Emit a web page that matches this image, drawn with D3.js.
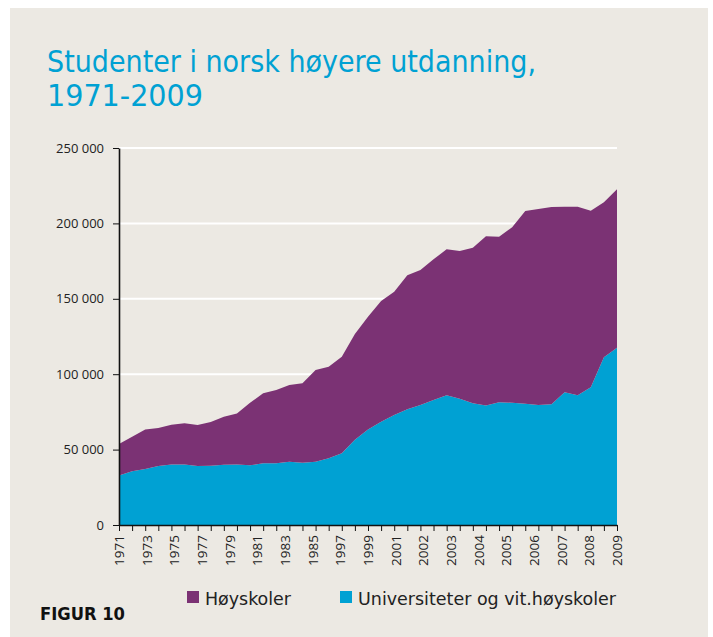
<!DOCTYPE html>
<html>
<head>
	<title>Studenter i norsk høyere utdanning</title>
	<script src="https://cdn.jsdelivr.net/npm/d3@7"></script>
	<style type="text/css">
	html, body{
		margin:0;
		background:#fff;
	}
	svg text{
		fill:#222;
	}
	.axis path, .axis line{
		stroke:#111;
	}
	</style>
</head>
<body>
<svg id="chart" width="713" height="637"></svg>
<script type="text/javascript">
	// years on the x axis, one point per year
	var years = d3.range(1971, 2010);

	// tick labels as printed in the original (spread evenly under the axis)
	var tickLabels = ["1971","1973","1975","1977","1979","1981","1983","1985","1997","1999",
		"2001","2002","2003","2004","2005","2006","2007","2008","2009"];

	var universiteter = [32900, 35600, 37100, 39100, 40200, 40200, 39100, 39300, 40000, 40200,
		39600, 40900, 40900, 42000, 41300, 42000, 44200, 47500, 56600, 63400,
		68500, 72900, 76700, 79600, 82900, 86000, 83800, 80700, 79200, 81400,
		81100, 80400, 79600, 80000, 88000, 86000, 91300, 111200, 117600];

	var hoyskoler = [20800, 23000, 26300, 25200, 26300, 27200, 27200, 29000, 31800, 33800,
		41500, 46400, 48600, 50800, 52700, 60800, 60800, 64100, 70100, 74700,
		80000, 81800, 88900, 89500, 93300, 96800, 97900, 103200, 112200, 109800,
		116300, 127800, 129900, 130900, 123100, 125100, 117100, 102800, 105000];

	var yTicks = [0, 50000, 100000, 150000, 200000, 250000];

	var seriesNames = ["Høyskoler", "Universiteter og vit.høyskoler"];
	var seriesColors = ["#7b3274", "#00a1d3"];

	var svg = d3.select("#chart");

	// beige panel
	svg.append("rect").attr("x",10).attr("y",8).attr("width",698).attr("height",629).attr("fill","#ece9e3");

	// title
	var title = svg.append("g")
		.style("font-family","'DejaVu Sans Condensed','Liberation Sans Narrow',sans-serif")
		.style("font-size","30px");
	title.append("text").attr("x",47).attr("y",72).attr("textLength",489).attr("lengthAdjust","spacingAndGlyphs")
		.style("fill","#00a1d3").text("Studenter i norsk høyere utdanning,");
	title.append("text").attr("x",47).attr("y",106).attr("textLength",156).attr("lengthAdjust","spacingAndGlyphs")
		.style("fill","#00a1d3").text("1971-2009");

	var x = d3.scaleLinear().domain([0, years.length-1]).range([119, 617]);
	var y = d3.scaleLinear().domain([0, 250000]).range([525, 148]);

	// white gridlines behind the areas
	svg.append("g").selectAll("line")
		.data(yTicks.slice(1))
		.enter().append("line")
		.attr("x1",119).attr("x2",617)
		.attr("y1",function(d){ return y(d); })
		.attr("y2",function(d){ return y(d); })
		.attr("stroke","#fff").attr("stroke-width",2);

	var table = years.map(function(yr, i){
		return {year:yr, uni:universiteter[i], hoy:hoyskoler[i]};
	});
	var stack = d3.stack().keys(["uni","hoy"])(table);

	var area = d3.area()
		.x(function(d,i){ return x(i); })
		.y0(function(d){ return y(d[0]); })
		.y1(function(d){ return y(d[1]); });

	svg.append("g").selectAll("path")
		.data(stack)
		.enter().append("path")
		.attr("d", area)
		.attr("fill", function(d){ return d.key=="uni" ? seriesColors[1] : seriesColors[0]; });

	// y axis
	var yAxis = svg.append("g").attr("class","axis").attr("transform","translate(119,0)")
		.call(d3.axisLeft(y).tickValues(yTicks).tickSize(6).tickSizeOuter(0).tickPadding(9)
			.tickFormat(function(d){ return d3.format(",")(d).replace(/,/g," "); }));
	yAxis.select(".domain").attr("stroke-width",1.6);
	yAxis.selectAll("text").style("font-family","'Open Sans',sans-serif").style("font-size","13px").attr("fill","#222");

	// x axis, a tick for every year
	var xAxis = svg.append("g").attr("class","axis").attr("transform","translate(0,525)")
		.call(d3.axisBottom(x).tickValues(d3.range(years.length)).tickSize(6).tickSizeOuter(0).tickFormat(""));
	xAxis.select(".domain").attr("stroke-width",1.6);

	var xl = d3.scalePoint().domain(tickLabels).range([119, 617]);
	svg.append("g").selectAll("text")
		.data(tickLabels)
		.enter().append("text")
		.attr("transform", function(d){ return "translate(" + xl(d) + ",535) rotate(-90)"; })
		.attr("text-anchor","end")
		.attr("dy","0.36em")
		.style("font-family","'Open Sans',sans-serif").style("font-size","13.5px")
		.text(function(d){ return d; });

	// legend
	var legendX = [187, 340];
	var legend = svg.append("g").selectAll("g")
		.data(seriesNames)
		.enter().append("g")
		.attr("transform", function(d,i){ return "translate(" + legendX[i] + ",591)"; });
	legend.append("rect").attr("width",12).attr("height",12)
		.attr("fill", function(d,i){ return seriesColors[i]; });
	legend.append("text").attr("x",18).attr("y",14)
		.attr("textLength", function(d,i){ return i==0 ? 86 : 258; })
		.attr("lengthAdjust","spacingAndGlyphs")
		.style("font-family","'DejaVu Sans Condensed','Liberation Sans Narrow',sans-serif")
		.style("font-size","18px")
		.text(function(d){ return d; });

	svg.append("text").attr("x",40).attr("y",620).attr("textLength",85).attr("lengthAdjust","spacingAndGlyphs")
		.style("font-family","'DejaVu Sans Condensed','Liberation Sans Narrow',sans-serif")
		.style("font-size","17px").style("font-weight","bold").style("fill","#111")
		.text("FIGUR 10");
</script>
</body>
</html>
